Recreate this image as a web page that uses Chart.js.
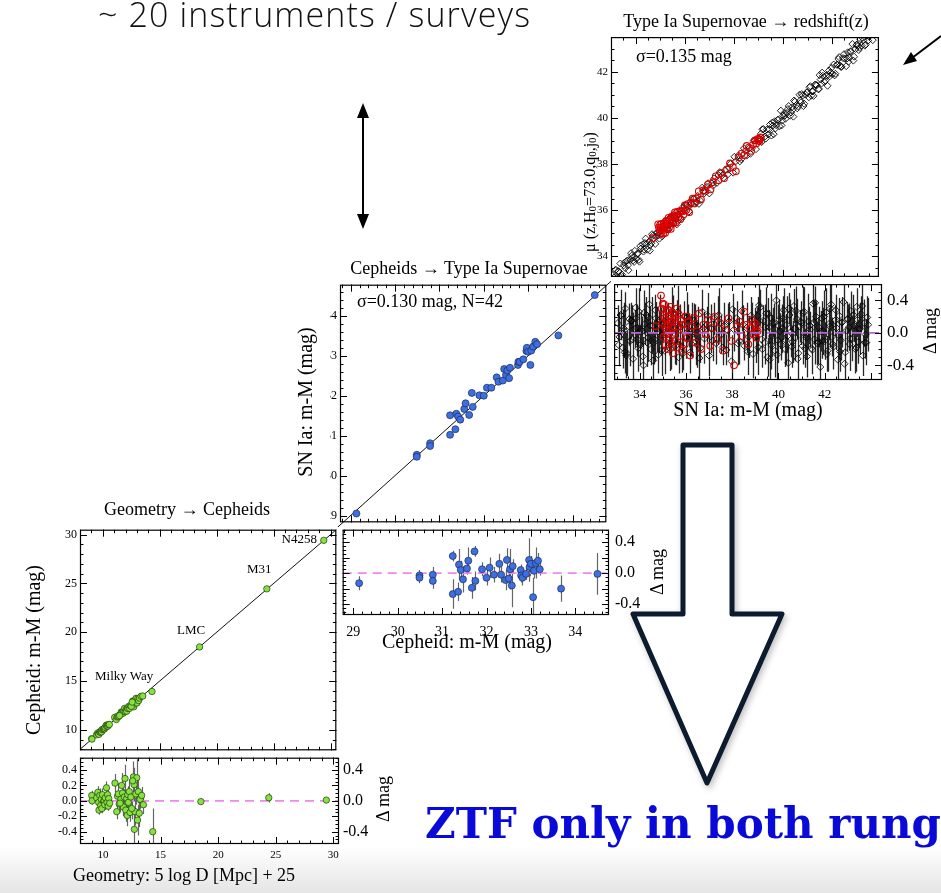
<!DOCTYPE html>
<html>
<head>
<meta charset="utf-8">
<title>Distance ladder</title>
<script src="https://cdn.jsdelivr.net/npm/chart.js@4.4.1/dist/chart.umd.min.js"></script>
<style>
  html, body { margin: 0; padding: 0; }
  body { width: 941px; height: 893px; position: relative; overflow: hidden; background: #fff; }
  canvas { position: absolute; }
  #floor { position: absolute; left: 0; top: 846px; width: 941px; height: 47px;
           background: linear-gradient(#fff, #f3f3f3 45%, #e5e5e5); }
  svg { position: absolute; left: 0; top: 0; }
  .serif { font-family: "Liberation Serif", "Times New Roman", serif; }
</style>
</head>
<body>
<div id="floor"></div>
<canvas id="snMain"></canvas>
<canvas id="snRes"></canvas>
<canvas id="cephMain"></canvas>
<canvas id="cephResid"></canvas>
<canvas id="geoMain"></canvas>
<canvas id="geoResid"></canvas>

<svg width="941" height="893" viewBox="0 0 941 893">
  <text x="98" y="27" font-family="'Open Sans', 'Liberation Sans', sans-serif" font-weight="300" font-size="34"
        textLength="432" lengthAdjust="spacing" fill="#111">~ 20 instruments / surveys</text>

  <!-- double arrow -->
  <line x1="363" y1="115" x2="363" y2="217" stroke="#000" stroke-width="2"/>
  <polygon points="363,103 357,118 369,118" fill="#000"/>
  <polygon points="363,229 357,214 369,214" fill="#000"/>

  <!-- pointer at top right -->
  <line x1="941" y1="36" x2="912" y2="58" stroke="#000" stroke-width="2"/>
  <polygon points="903,65 917,61 911,52" fill="#000"/>

  <g class="serif" fill="#000">
    <text x="746" y="27" font-size="18" text-anchor="middle">Type Ia Supernovae → redshift(z)</text>
    <text x="469" y="274" font-size="18" text-anchor="middle">Cepheids → Type Ia Supernovae</text>
    <text x="187" y="515" font-size="18" text-anchor="middle">Geometry → Cepheids</text>

    <text x="636" y="62" font-size="18">σ=0.135 mag</text>
    <text x="357" y="307" font-size="18">σ=0.130 mag, N=42</text>

    <text x="317" y="543" font-size="13" text-anchor="end">N4258</text>
    <text x="247" y="573" font-size="13">M31</text>
    <text x="177" y="634" font-size="13">LMC</text>
    <text x="95" y="680" font-size="13">Milky Way</text>

    <text x="748" y="416" font-size="20" text-anchor="middle">SN Ia: m-M (mag)</text>
    <text x="467" y="648" font-size="20" text-anchor="middle">Cepheid: m-M (mag)</text>
    <text x="184" y="881" font-size="18" text-anchor="middle">Geometry: 5 log D [Mpc] + 25</text>

    <text transform="translate(33,650) rotate(-90)" font-size="20" text-anchor="middle" dominant-baseline="central">Cepheid: m-M (mag)</text>
    <text transform="translate(305,402) rotate(-90)" font-size="20" text-anchor="middle" dominant-baseline="central">SN Ia: m-M (mag)</text>
    <text transform="translate(589,192) rotate(-90)" font-size="16" text-anchor="middle" dominant-baseline="central">μ (z,H<tspan font-size="11" dy="3">0</tspan><tspan dy="-3">=73.0,q</tspan><tspan font-size="11" dy="3">0</tspan><tspan dy="-3">,j</tspan><tspan font-size="11" dy="3">0</tspan><tspan dy="-3">)</tspan></text>

    <text transform="translate(930,331) rotate(-90)" font-size="18" text-anchor="middle" dominant-baseline="central">Δ mag</text>
    <text transform="translate(657,572) rotate(-90)" font-size="18" text-anchor="middle" dominant-baseline="central">Δ mag</text>
    <text transform="translate(383,799) rotate(-90)" font-size="18" text-anchor="middle" dominant-baseline="central">Δ mag</text>
  </g>

  <!-- big hollow arrow -->
  <polygon points="683,445 732,445 732,614 782,614 707,783 633,614 683,614"
           fill="#fff" stroke="#0d1b2e" stroke-width="5" stroke-linejoin="round"
           style="filter: drop-shadow(2px 3px 3px rgba(0,0,0,0.25))"/>

  <text x="425" y="838" font-family="'DejaVu Serif', serif" font-weight="bold" font-size="43"
        textLength="516" lengthAdjust="spacingAndGlyphs" fill="#0a0ad8">ZTF only in both rung</text>
</svg>

<script>
// --- Type Ia supernovae in the Hubble flow (black) : distance modulus and Hubble residual
const snXa = [33.05,33.12,33.20,33.26,33.31,33.38,33.45,33.52,33.58,33.66,
  33.71,33.79,33.84,33.90,33.97,34.03,34.10,34.16,34.22,34.29,
  34.35,34.41,34.48,34.55,34.60,34.67,34.73,34.80,34.86,34.93,
  35.01,35.08,35.15,35.22,35.30,35.37,35.44,35.52,35.60,35.68,
  35.75,35.83,35.91,36.00,36.08,36.17,36.26,36.35,36.44,36.53,
  36.62,36.71,36.80,36.90,37.00,37.10,37.20,37.31,37.42,37.53,
  37.64,37.75,37.86,37.97,38.08,38.19,38.30,38.41,38.52,38.62,
  38.72,38.81,38.90,38.98,39.06,39.13,39.20,39.27,39.34,39.40,
  39.47,39.53,39.59,39.66,39.72,39.78,39.85,39.91,39.97,40.04,
  40.10,40.16,40.23,40.29,40.35,40.42,40.48,40.54,40.61,40.67,
  40.73,40.80,40.86,40.92,40.99,41.05,41.11,41.18,41.24,41.30,
  41.37,41.43,41.49,41.56,41.62,41.68,41.75,41.81,41.87,41.94,
  42.00,42.06,42.13,42.19,42.25,42.32,42.38,42.44,42.51,42.57,
  42.63,42.70,42.76,42.82,42.89,42.95,43.01,43.08,43.14,43.20,
  43.27,43.33,43.39,43.46,43.52,43.58,43.65,43.71,43.77,43.84];
const snXb = [33.09,33.17,33.29,33.42,33.55,33.69,33.82,33.94,34.06,34.19,
  34.32,34.45,34.58,34.70,34.83,34.97,35.11,35.26,35.41,35.56,
  35.72,35.87,36.04,36.21,36.39,36.58,36.76,36.95,37.15,37.37,
  37.58,37.80,38.02,38.24,38.46,38.67,38.86,39.02,39.16,39.30,
  39.43,39.56,39.69,39.81,39.94,40.07,40.20,40.32,40.45,40.58,
  40.70,40.83,40.96,41.08,41.21,41.34,41.46,41.59,41.72,41.84,
  41.97,42.10,42.22,42.35,42.48,42.60,42.73,42.86,42.98,43.11,
  43.24,43.36,43.49,43.62,43.74,43.88,33.35,33.62,33.88,34.13,
  34.38,34.64,34.90,35.34,35.64,36.13,36.49,39.10,39.62,40.00,
  40.39,40.76,41.15,41.53,41.90,42.28,42.66,43.05,43.42,43.80];
const snResA = [0.12,-0.05,0.21,-0.18,0.03,0.30,-0.25,0.08,-0.10,0.15,
  -0.32,0.05,0.18,-0.08,0.26,-0.15,0.02,-0.40,0.11,0.22,
  -0.06,0.35,-0.20,0.09,-0.12,0.28,0.04,-0.27,0.16,-0.03,
  0.10,-0.22,0.06,0.19,-0.14,0.01,0.24,-0.09,0.13,-0.30,
  0.07,-0.17,0.20,-0.04,0.12,-0.24,0.03,0.15,-0.11,0.08,
  -0.19,0.26,-0.07,0.10,-0.28,0.05,0.17,-0.13,0.22,-0.02,
  0.09,-0.21,0.14,-0.35,0.04,0.18,-0.10,0.27,-0.16,0.06,
  -0.05,0.21,-0.26,0.11,0.02,-0.18,0.31,-0.08,0.15,-0.12,
  0.24,-0.30,0.07,0.19,-0.04,0.13,-0.22,0.40,-0.09,0.16,
  -0.14,0.05,0.28,-0.20,0.10,-0.37,0.22,0.01,-0.11,0.33,
  -0.06,0.17,-0.25,0.08,0.12,-0.16,0.26,-0.03,-0.29,0.14,
  0.04,-0.19,0.36,-0.08,0.20,-0.13,0.07,-0.42,0.18,0.02,
  -0.10,0.25,-0.22,0.11,0.30,-0.05,-0.17,0.15,0.06,-0.33,
  0.21,-0.09,0.13,0.38,-0.24,0.03,0.17,-0.14,0.27,-0.07,
  0.09,-0.20,0.32,-0.11,0.05,0.23,-0.28,0.12,-0.02,0.19];
const snResB = [-0.15,0.22,0.06,-0.28,0.17,-0.08,0.31,-0.19,0.04,0.25,
  -0.12,0.09,-0.34,0.18,0.01,-0.21,0.14,-0.06,0.27,-0.16,
  0.08,-0.25,0.19,-0.03,0.12,-0.31,0.06,0.21,-0.10,0.15,
  -0.18,0.03,0.29,-0.13,0.10,-0.23,0.16,-0.05,0.34,-0.20,
  0.07,0.23,-0.15,0.11,-0.27,0.02,0.18,-0.09,0.30,-0.17,
  0.05,-0.32,0.14,0.24,-0.06,0.09,-0.21,0.37,-0.11,0.02,
  0.20,-0.26,0.08,-0.14,0.28,-0.03,0.13,-0.38,0.17,-0.07,
  0.22,-0.18,0.04,0.33,-0.12,0.10,-0.24,0.15,0.06,-0.29,
  0.19,-0.08,0.12,-0.20,0.26,0.03,-0.15,0.21,-0.33,0.09,
  -0.04,0.27,-0.19,0.13,-0.10,0.35,-0.23,0.07,0.16,-0.12];
const snErrA = [0.22,0.30,0.18,0.26,0.34,0.20,0.28,0.24,0.31,0.19,
  0.27,0.23,0.33,0.21,0.29,0.25,0.18,0.32,0.26,0.22,
  0.30,0.24,0.20,0.35,0.27,0.19,0.28,0.23,0.31,0.25,
  0.21,0.29,0.26,0.18,0.33,0.24,0.22,0.30,0.27,0.20,
  0.25,0.32,0.19,0.28,0.23,0.26,0.34,0.21,0.29,0.24,
  0.18,0.27,0.31,0.22,0.25,0.30,0.20,0.26,0.33,0.23,
  0.28,0.19,0.24,0.32,0.27,0.21,0.29,0.25,0.18,0.31,
  0.26,0.23,0.30,0.20,0.28,0.34,0.22,0.25,0.19,0.27,
  0.32,0.24,0.21,0.29,0.26,0.18,0.33,0.23,0.28,0.25,
  0.20,0.30,0.27,0.22,0.35,0.24,0.19,0.31,0.26,0.21,
  0.29,0.25,0.32,0.20,0.27,0.23,0.30,0.18,0.26,0.34,
  0.22,0.28,0.24,0.31,0.19,0.27,0.25,0.33,0.21,0.29,
  0.23,0.30,0.26,0.20,0.32,0.24,0.28,0.19,0.27,0.35,
  0.22,0.25,0.31,0.21,0.29,0.26,0.18,0.33,0.24,0.28,
  0.20,0.30,0.23,0.27,0.32,0.22,0.25,0.29,0.19,0.26];
const snErrB = [0.26,0.31,0.22,0.28,0.19,0.33,0.24,0.29,0.21,0.27,
  0.30,0.23,0.34,0.20,0.26,0.32,0.25,0.18,0.29,0.24,
  0.27,0.21,0.31,0.26,0.23,0.35,0.20,0.28,0.25,0.30,
  0.22,0.33,0.19,0.27,0.24,0.29,0.21,0.32,0.26,0.23,
  0.28,0.20,0.30,0.25,0.34,0.22,0.27,0.31,0.19,0.26,
  0.24,0.29,0.21,0.33,0.27,0.23,0.30,0.20,0.28,0.25,
  0.32,0.22,0.26,0.29,0.19,0.31,0.24,0.35,0.21,0.27,
  0.25,0.30,0.23,0.28,0.20,0.33,0.26,0.22,0.29,0.24,
  0.31,0.27,0.19,0.25,0.32,0.21,0.28,0.23,0.34,0.26,
  0.20,0.30,0.24,0.27,0.22,0.33,0.25,0.29,0.21,0.28];

// --- ZTF supernovae (red)
const ztfX = [34.92,34.95,34.98,35.01,35.03,35.05,35.08,35.10,35.12,35.14,
  35.16,35.18,35.20,35.22,35.24,35.27,35.29,35.31,35.34,35.36,
  35.38,35.41,35.43,35.46,35.48,35.51,35.54,35.57,35.60,35.63,
  35.66,35.70,35.74,35.78,35.82,35.86,35.90,35.95,36.00,36.06,
  36.12,36.18,36.25,36.32,36.40,36.48,36.57,36.66,36.75,36.85,
  36.95,37.05,37.15,37.26,37.37,37.48,37.60,37.72,37.84,37.96,
  38.08,38.20,38.31,38.42,38.52,38.61,38.70,38.78,38.85,38.91,
  38.96,39.00,39.04,39.07,39.10,35.00,35.25,35.55,34.70,35.15];
const ztfRes = [0.46,0.30,0.12,0.22,-0.05,0.35,0.18,0.08,-0.15,0.26,
  0.04,0.15,-0.20,0.28,0.10,-0.08,0.20,0.02,0.32,-0.12,
  0.14,0.06,-0.25,0.24,0.00,0.18,-0.10,0.12,0.30,-0.18,
  0.08,0.22,-0.04,0.16,-0.22,0.10,0.04,-0.14,0.20,-0.06,
  0.14,-0.28,0.08,0.18,-0.12,0.02,0.24,-0.20,0.10,-0.02,
  0.16,-0.16,0.06,0.20,-0.08,0.12,-0.22,0.04,0.18,-0.10,
  -0.40,0.08,0.14,-0.04,0.26,0.10,-0.14,0.06,0.16,-0.02,
  0.12,0.04,-0.06,0.08,0.02,0.36,0.28,0.22,0.08,-0.02];

// --- Cepheid hosts: Cepheid distance, SN distance, residual
const cephX = [29.13,30.49,30.49,30.79,30.79,31.24,31.24,31.36,31.38,31.42,
  31.47,31.56,31.59,31.67,31.73,31.75,31.90,32.00,32.07,32.17,
  32.29,32.33,32.43,32.46,32.50,32.53,32.57,32.59,32.77,32.78,
  32.81,32.89,32.96,32.97,33.00,33.05,33.07,33.11,33.16,33.20,
  33.68,34.50];
const cephY = [29.05,30.52,30.47,30.81,30.74,31.51,31.02,31.16,31.55,31.48,
  31.40,31.67,31.81,31.52,32.07,31.72,32.01,32.00,32.20,32.20,
  32.46,32.35,32.38,32.67,32.52,32.63,32.44,32.70,32.77,32.85,
  32.85,32.91,33.12,33.20,33.10,32.77,33.13,33.23,33.35,33.29,
  33.51,34.52];
const cephRes = [-0.13,-0.03,-0.06,-0.02,-0.10,0.22,-0.27,-0.24,0.11,0.04,
  -0.08,0.06,0.16,-0.19,0.28,-0.10,0.05,-0.06,0.07,-0.02,
  0.12,-0.02,-0.09,0.17,-0.07,0.05,-0.16,0.09,0.04,-0.03,
  -0.06,-0.01,0.17,0.08,0.12,-0.31,0.03,0.13,0.16,0.05,
  -0.20,-0.01];
const cephErr = [0.09,0.07,0.07,0.10,0.10,0.07,0.19,0.12,0.20,0.12,
  0.17,0.08,0.17,0.14,0.07,0.12,0.09,0.10,0.13,0.10,
  0.13,0.10,0.13,0.15,0.10,0.26,0.28,0.09,0.07,0.09,
  0.10,0.08,0.28,0.12,0.10,0.25,0.10,0.20,0.10,0.08,
  0.17,0.27];

// --- geometric anchors: Milky Way parallaxes, LMC, M31, N4258
const geoX = [9.02,9.05,9.45,9.55,9.62,9.65,9.72,9.80,9.85,9.90,
  9.95,10.05,10.10,10.15,10.20,10.30,10.35,10.40,10.45,10.50,10.58,
  11.04,11.19,11.26,11.33,11.40,11.55,11.62,11.70,11.77,11.85,
  11.91,11.98,12.06,12.10,12.15,12.20,12.28,12.35,12.42,12.64,
  12.70,12.72,12.78,12.85,12.93,13.00,13.07,13.15,13.22,13.36,
  13.51,14.32,12.50,12.58,11.48,
  18.50,24.40,29.40];
const geoRes = [0.07,0.00,0.04,0.11,-0.02,-0.12,0.07,-0.06,0.02,-0.10,
  0.08,-0.01,0.00,-0.05,0.04,0.17,-0.02,0.08,-0.07,0.03,-0.03,
  0.23,-0.14,0.06,0.09,-0.04,0.02,0.20,0.10,-0.08,0.05,
  0.29,-0.12,0.03,-0.19,0.08,-0.02,0.12,-0.15,0.05,0.31,
  0.21,-0.37,-0.14,0.09,0.30,-0.25,0.12,-0.16,0.02,0.07,
  -0.05,-0.40,-0.10,0.26,-0.03,
  -0.01,0.04,0.01];
const geoErr = [0.06,0.05,0.07,0.08,0.05,0.06,0.09,0.07,0.05,0.06,
  0.08,0.06,0.05,0.07,0.06,0.08,0.05,0.07,0.06,0.05,0.06,
  0.12,0.10,0.09,0.14,0.11,0.10,0.16,0.13,0.12,0.10,
  0.18,0.15,0.12,0.14,0.11,0.13,0.16,0.12,0.10,0.20,
  0.22,0.25,0.18,0.14,0.24,0.20,0.15,0.18,0.13,0.11,
  0.12,0.30,0.14,0.22,0.12,
  0.04,0.06,0.03];

// tick labels
const snTicks = [34, 36, 38, 40, 42];
const cephTicks = [29, 30, 31, 32, 33, 34];
const geoTicks = [10, 15, 20, 25, 30];
const resTicks = [-0.4, 0, 0.4];
const geoResTicks = [-0.4, -0.2, 0, 0.2, 0.4];

const snX = snXa.concat(snXb);
const snRes = snResA.concat(snResB);
const snErr = snErrA.concat(snErrB);
// distance of main panels = distance + residual (residual plotted below)
const snMu = snX.map((v, i) => v + snRes[i]);
const ztfMu = ztfX.map((v, i) => v + ztfRes[i]);
const geoMu = geoX.map((v, i) => v + geoRes[i]);

Chart.defaults.font.family = '"Liberation Serif", "Times New Roman", serif';
Chart.defaults.color = '#000';

const errorBars = {
  id: 'errorBars',
  beforeDatasetsDraw(chart) {
    const {ctx, chartArea: a, scales: {x, y}} = chart;
    ctx.save();
    ctx.beginPath();
    ctx.rect(a.left, a.top, a.right - a.left, a.bottom - a.top);
    ctx.clip();
    chart.data.datasets.forEach(ds => {
      if (!ds.errors) return;
      ctx.strokeStyle = ds.errorColor;
      ctx.lineWidth = ds.errorWidth || 1;
      ctx.beginPath();
      ds.data.forEach((p, i) => {
        const px = Math.round(x.getPixelForValue(p.x)) + 0.5;
        ctx.moveTo(px, y.getPixelForValue(p.y - ds.errors[i]));
        ctx.lineTo(px, y.getPixelForValue(p.y + ds.errors[i]));
      });
      ctx.stroke();
    });
    ctx.restore();
  }
};

// box with inward major/minor ticks on all four sides
const frame = {
  id: 'frame',
  afterDatasetsDraw(chart, args, opts) {
    const {ctx, chartArea: a, scales} = chart;
    ctx.save();
    ctx.strokeStyle = '#000';
    ctx.lineWidth = 1;
    ctx.beginPath();
    const mark = (scale, step, len) => {
      const k0 = Math.ceil(scale.min / step - 1e-6), k1 = Math.floor(scale.max / step + 1e-6);
      for (let k = k0; k <= k1; k++) {
        const p = Math.round(scale.getPixelForValue(k * step)) + 0.5;
        if (scale.isHorizontal()) {
          ctx.moveTo(p, a.bottom); ctx.lineTo(p, a.bottom - len);
          ctx.moveTo(p, a.top); ctx.lineTo(p, a.top + len);
        } else {
          ctx.moveTo(a.left, p); ctx.lineTo(a.left + len, p);
          ctx.moveTo(a.right, p); ctx.lineTo(a.right - len, p);
        }
      }
    };
    mark(scales.x, opts.x[0], 7); mark(scales.x, opts.x[1], 3.5);
    mark(scales.y, opts.y[0], 7); mark(scales.y, opts.y[1], 3.5);
    ctx.stroke();
    ctx.lineWidth = 1.2;
    ctx.strokeRect(a.left + 0.5, a.top + 0.5, a.right - a.left - 1, a.bottom - a.top - 1);
    ctx.restore();
  }
};

function scaleOpts(position, size, s) {
  return {
    type: 'linear', position, min: s.min, max: s.max,
    afterBuildTicks: sc => { sc.ticks = s.ticks.map(v => ({value: v})); },
    afterFit: sc => {
      if (sc.isHorizontal()) sc.height = size; else sc.width = size;
      sc.paddingTop = sc.paddingBottom = sc.paddingLeft = sc.paddingRight = 0;
    },
    grid: {display: false, drawTicks: false},
    border: {display: false},
    ticks: {
      display: !!s.labels, padding: s.pad || 3, font: {size: s.size || 12},
      maxRotation: 0, minRotation: 0, autoSkip: false, color: '#000',
      callback: s.fmt || (v => String(v))
    }
  };
}

function makePanel(id, box, pad, spec) {
  const cv = document.getElementById(id);
  const w = box[2] - box[0] + pad.l + pad.r;
  const h = box[3] - box[1] + pad.t + pad.b;
  cv.width = w; cv.height = h;
  Object.assign(cv.style, {left: (box[0] - pad.l) + 'px', top: (box[1] - pad.t) + 'px', width: w + 'px', height: h + 'px'});
  const yRight = spec.y.pos === 'right';
  const scales = {
    x: scaleOpts('bottom', pad.b, spec.x),
    y: scaleOpts(yRight ? 'right' : 'left', yRight ? pad.r : pad.l, spec.y)
  };
  if (spec.y2) scales.y2 = scaleOpts('right', pad.r, spec.y2);
  const hasRight = yRight || !!spec.y2;
  return new Chart(cv, {
    type: 'scatter',
    data: {datasets: spec.datasets},
    options: {
      responsive: false, animation: false, events: [], devicePixelRatio: 1,
      layout: {padding: {left: yRight ? pad.l : 0, right: hasRight ? 0 : pad.r, top: pad.t, bottom: 0}},
      scales,
      plugins: {legend: {display: false}, tooltip: {enabled: false}, frame: spec.frame}
    },
    plugins: [errorBars, frame]
  });
}

const fmt1 = v => v.toFixed(1);
const pts = (xs, ys) => xs.map((v, i) => ({x: v, y: ys[i]}));
const zero = (a, b, color, dash) => ({data: [{x: a, y: 0}, {x: b, y: 0}], showLine: true, pointRadius: 0,
  borderColor: color, borderWidth: 1.6, borderDash: dash});
const diag = (a, b) => ({data: [{x: a, y: a}, {x: b, y: b}], showLine: true, pointRadius: 0,
  borderColor: '#111', borderWidth: 1, clip: false});
const diamond = {pointStyle: 'rectRot', pointRadius: 3.5, borderColor: 'rgba(0,0,0,0.85)', borderWidth: 1, backgroundColor: 'rgba(0,0,0,0)'};
const ring = {pointStyle: 'circle', pointRadius: 3.3, borderColor: '#d80000', borderWidth: 1.1, backgroundColor: 'rgba(0,0,0,0)'};

// Type Ia supernovae -> redshift
makePanel('snMain', [611, 36, 882, 280], {l: 16, r: 2, t: 4, b: 2}, {
  x: {min: 33.0, max: 43.9, ticks: snTicks},
  y: {min: 33.1, max: 43.5, ticks: snTicks, labels: true, size: 11, pad: 3},
  frame: {x: [2, 0.5], y: [2, 0.5]},
  datasets: [
    Object.assign({data: pts(ztfX, ztfMu)}, ring),
    Object.assign({data: pts(snX, snMu)}, diamond)
  ]
});
makePanel('snRes', [611, 281, 882, 380], {l: 2, r: 59, t: 2, b: 30}, {
  x: {min: 32.89, max: 44.48, ticks: snTicks, labels: true, size: 13, pad: 7},
  y: {pos: 'right', min: -0.58, max: 0.60, ticks: resTicks, labels: true, size: 17, pad: 5, fmt: fmt1},
  frame: {x: [2, 0.5], y: [0.4, 0.1]},
  datasets: [
    zero(32.89, 44.48, '#b465cf', [10, 7]),
    Object.assign({data: pts(ztfX, ztfRes)}, ring),
    Object.assign({data: pts(snX, snRes), errors: snErr, errorColor: 'rgba(0,0,0,0.85)', errorWidth: 1.3}, diamond)
  ]
});

// Cepheids -> Type Ia supernovae
const blue = {pointStyle: 'circle', pointRadius: 3.5, backgroundColor: '#3d6fe0', borderColor: '#1b2b58', borderWidth: 0.7};
makePanel('cephMain', [340, 282, 609, 525], {l: 10, r: 2, t: 2, b: 2}, {
  x: {min: 28.76, max: 34.76, ticks: cephTicks},
  y: {min: 28.83, max: 34.78, ticks: cephTicks, labels: true, size: 12, pad: 3},
  frame: {x: [1, 0.2], y: [1, 0.2]},
  datasets: [Object.assign({data: pts(cephX, cephY)}, blue), diag(28.5, 35.1)]
});
makePanel('cephResid', [340, 527, 609, 615], {l: 2, r: 61, t: 2, b: 28}, {
  x: {min: 28.76, max: 34.76, ticks: cephTicks, labels: true, size: 14, pad: 9},
  y: {pos: 'right', min: -0.54, max: 0.56, ticks: resTicks, labels: true, size: 16, pad: 6, fmt: fmt1},
  frame: {x: [1, 0.2], y: [0.2, 0.05]},
  datasets: [Object.assign({data: pts(cephX, cephRes), errors: cephErr, errorColor: '#666', errorWidth: 1.2}, blue),
             zero(28.76, 34.76, '#ee88f0', [9, 6])]
});

// Geometry -> Cepheids
const green = {pointStyle: 'circle', pointRadius: 3.2, backgroundColor: '#86e23e', borderColor: '#1e3b0b', borderWidth: 0.7};
makePanel('geoMain', [80, 527, 339, 753], {l: 30, r: 2, t: 2, b: 2}, {
  x: {min: 8, max: 30.5, ticks: geoTicks},
  y: {min: 7.9, max: 30.5, ticks: geoTicks, labels: true, size: 12, pad: 3},
  frame: {x: [5, 1], y: [5, 1]},
  datasets: [Object.assign({data: pts(geoX, geoMu)}, green), diag(8, 30.5)]
});
makePanel('geoResid', [80, 755, 339, 844], {l: 30, r: 56, t: 2, b: 20}, {
  x: {min: 8, max: 30.5, ticks: geoTicks, labels: true, size: 11, pad: 5},
  y: {min: -0.56, max: 0.56, ticks: geoResTicks, labels: true, size: 12, pad: 3, fmt: fmt1},
  y2: {min: -0.56, max: 0.56, ticks: resTicks, labels: true, size: 16, pad: 4, fmt: fmt1},
  frame: {x: [5, 1], y: [0.2, 0.05]},
  datasets: [Object.assign({data: pts(geoX, geoRes), errors: geoErr, errorColor: '#666', errorWidth: 1.2}, green),
             zero(8, 30.5, '#ee88f0', [9, 6])]
});
</script>
</body>
</html>
